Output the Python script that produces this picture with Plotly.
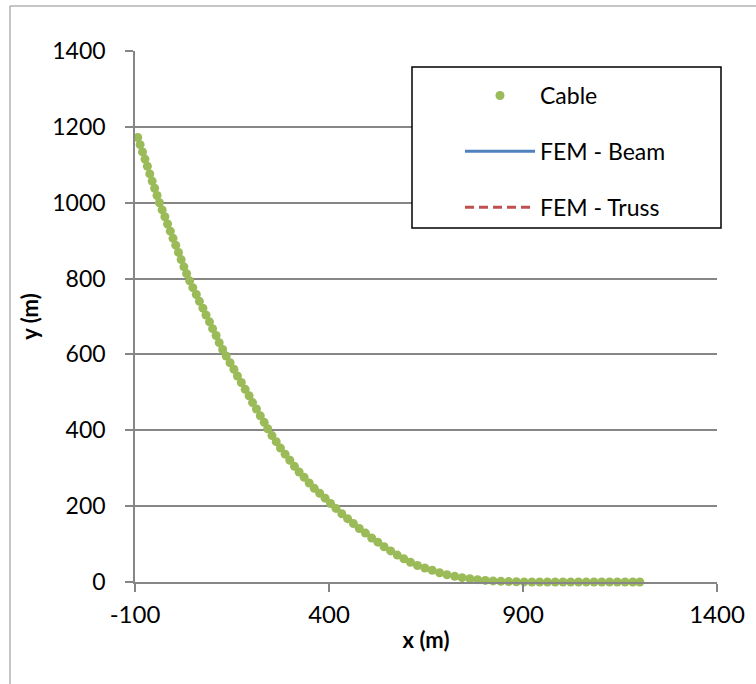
import plotly.graph_objects as go

# Cable node positions (m)
cable_x = [-93, -86.8, -80.6, -74.3, -68.1, -61.9, -55.7, -49.4, -43.2, -37,
           -30, -23, -16, -9, -2, 5, 12, 19, 26, 33, 41,
           49, 58, 66, 75, 83, 92, 100, 109, 117, 126, 135,
           145, 155, 164, 174, 184, 194, 203, 213, 223, 233, 242,
           253, 264, 275, 287, 299, 311, 323, 336, 349, 362, 376, 390, 404,
           418, 433, 448, 463, 478, 494, 510, 526, 542, 559, 576, 593, 610,
           628, 647, 666, 685, 704, 724, 743, 763, 783, 803, 823, 843, 863,
           883, 903, 923, 943, 963, 983, 1003, 1023, 1043, 1063, 1083, 1103,
           1123, 1143, 1163, 1183, 1201]
cable_y = [1172, 1153, 1134, 1115, 1096, 1076, 1057, 1038, 1019, 1000,
           981, 963, 944, 925, 906, 888, 869, 850, 831, 813, 794,
           776, 758, 740, 722, 704, 686, 668, 650, 631, 613, 596,
           578, 561, 543, 526, 508, 491, 473, 456, 438, 421, 404,
           386, 370, 353, 337, 321, 305, 290, 276, 261, 247, 234, 221, 207,
           194, 180, 167, 154, 141, 129, 116, 105, 93, 82, 71, 61, 52,
           43.5, 37, 31, 24.5, 19, 15, 11.5, 8.8, 6.2, 4.2, 2.8, 1.8, 1.1,
           0.6, 0.3, 0.1, 0, 0, 0, 0, 0, 0, 0, 0, 0,
           0, 0, 0, 0, 0]

# FEM results coincide with the cable solution in the picture
beam_x, beam_y = cable_x, cable_y
truss_x, truss_y = cable_x, cable_y

x_ticks = [-100, 400, 900, 1400]
y_ticks = [0, 200, 400, 600, 800, 1000, 1200, 1400]

FONT = "Lato"
GRID = "#868686"

fig = go.Figure()
fig.add_trace(go.Scatter(x=beam_x, y=beam_y, mode="lines", name="FEM - Beam",
                         line=dict(color="#4F81BD", width=3),
                         legendgroup="b", legendrank=2))
fig.add_trace(go.Scatter(x=truss_x, y=truss_y, mode="lines", name="FEM - Truss",
                         line=dict(color="#C0504D", width=3, dash="9px,5px"),
                         legendgroup="c", legendrank=3))
fig.add_trace(go.Scatter(x=cable_x, y=cable_y, mode="markers", name="Cable",
                         marker=dict(color="#9BBB59", size=9),
                         cliponaxis=False, legendgroup="a", legendrank=1))

L, R, T, B = 135, 39, 51, 102
W, H = 756, 684
pw, ph = W - L - R, H - T - B

def px_to_paper_x(px):
    return (px - L) / pw

def px_to_paper_y(py):
    return (H - B - py) / ph

fig.update_layout(
    width=W, height=H,
    margin=dict(l=L, r=R, t=T, b=B, autoexpand=False),
    paper_bgcolor="white", plot_bgcolor="white",
    font=dict(family=FONT, size=22, color="black"),
    showlegend=True,
    legend=dict(x=px_to_paper_x(460), y=px_to_paper_y(74), xanchor="left", yanchor="top",
                bgcolor="rgba(0,0,0,0)", borderwidth=0, font=dict(size=23),
                traceorder="grouped", tracegroupgap=23, itemwidth=70),
    xaxis=dict(range=[-100, 1400], tickvals=x_ticks, ticktext=[str(v) for v in x_ticks],
               showgrid=False, zeroline=False, showline=True, linecolor=GRID, linewidth=1.5,
               ticks="outside", ticklen=8, tickcolor=GRID, tickwidth=1.5,
               ticklabelstandoff=2, tickfont=dict(size=24),
               title=dict(text="<b>x (m)</b>", font=dict(size=22), standoff=6)),
    yaxis=dict(range=[0, 1400], tickvals=y_ticks, ticktext=[str(v) for v in y_ticks],
               showgrid=True, gridcolor=GRID, gridwidth=1.5, zeroline=False,
               showline=True, linecolor=GRID, linewidth=1.5,
               ticks="outside", ticklen=8, tickcolor=GRID, tickwidth=1.5,
               ticklabelstandoff=15, tickfont=dict(size=23),
               title=dict(text="<b>y (m)</b>", font=dict(size=22), standoff=8)),
    shapes=[
        # outer chart border (extends past the window on right/bottom)
        dict(type="rect", xref="paper", yref="paper",
             x0=px_to_paper_x(10), x1=px_to_paper_x(W + 20),
             y0=px_to_paper_y(H + 20), y1=px_to_paper_y(6),
             line=dict(color="#8C8C8C", width=1), fillcolor="rgba(0,0,0,0)", layer="below"),
        # legend frame
        dict(type="rect", xref="paper", yref="paper",
             x0=px_to_paper_x(412), x1=px_to_paper_x(721),
             y0=px_to_paper_y(228), y1=px_to_paper_y(67),
             line=dict(color="black", width=1.5), fillcolor="white", layer="above"),
    ],
)

fig.write_html("out.html")
